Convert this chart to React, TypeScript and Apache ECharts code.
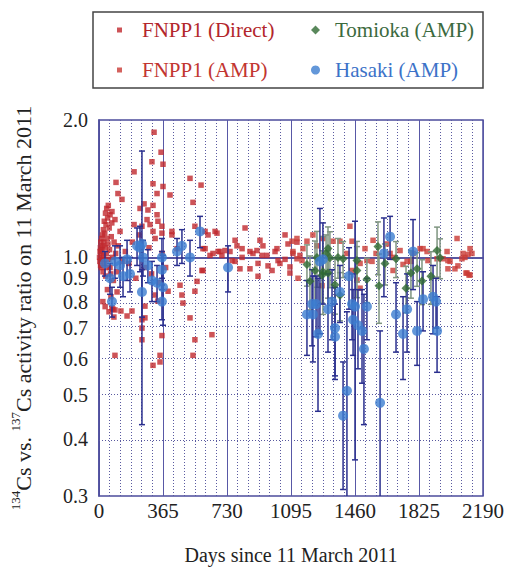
import React, { useEffect, useRef } from "react";
import * as echarts from "echarts";

const FONT = "Liberation Serif, Times New Roman, serif";

// ---- data: [day, ratio] ----
const fnppDirect: [number, number][] = [
  [3, 1.0], [5, 0.98], [6, 1.03], [8, 1.05], [9, 0.96], [10, 1.08], [12, 1.02], [13, 0.95], [15, 1.1], [16, 1.04],
  [18, 0.99], [20, 1.12], [21, 1.06], [23, 0.93], [25, 1.15], [26, 1.01], [28, 1.08], [30, 1.2], [31, 0.97], [33, 1.13],
  [35, 1.05], [37, 1.25], [38, 0.91], [40, 1.18], [42, 1.02], [44, 1.28], [45, 1.1], [47, 0.95], [49, 1.22], [51, 1.07],
  [53, 1.3], [55, 0.99], [58, 1.16], [60, 1.04], [63, 1.24], [66, 0.92], [70, 1.11], [73, 1.19], [77, 1.0], [82, 0.89],
  [86, 1.08], [95, 1.02], [100, 0.93], [110, 1.06], [120, 1.14], [135, 0.98], [150, 1.03], [170, 0.97], [190, 1.08],
  [210, 0.9], [230, 1.12], [260, 0.95], [285, 1.05], [300, 0.92], [320, 1.1], [345, 0.88], [360, 1.02], [380, 0.95],
  [22, 0.8], [35, 0.78], [48, 0.85], [57, 0.76], [68, 0.82], [80, 0.77], [85, 0.74],
  [314, 1.88], [354, 1.7], [302, 1.62], [365, 1.6], [200, 1.54], [519, 1.49], [97, 1.46], [308, 1.45], [365, 1.43],
  [582, 1.44], [108, 1.38], [331, 1.38], [131, 1.34], [405, 1.37], [257, 1.31], [234, 1.28], [279, 1.27], [308, 1.3],
  [536, 1.32], [74, 1.26], [331, 1.24], [91, 1.21], [274, 1.21], [336, 1.2], [200, 1.18], [245, 1.17], [291, 1.18],
  [359, 1.17], [547, 1.17], [308, 1.14], [359, 1.13], [416, 1.14], [416, 1.12], [662, 1.14], [605, 1.045], [445, 1.045],
  [17, 0.99], [63, 0.95], [103, 0.84], [74, 0.775], [91, 0.767], [125, 0.763], [160, 0.744], [188, 0.763], [262, 0.782],
  [245, 0.73], [262, 0.737], [245, 0.7], [245, 0.66], [359, 0.674], [348, 0.61], [348, 0.59], [308, 0.58], [91, 0.61],
  [479, 0.794], [519, 0.737], [547, 0.843], [559, 0.886], [473, 0.827], [547, 0.66], [536, 0.61], [644, 0.677],
  [462, 0.869], [336, 0.802], [394, 0.843], [319, 0.827], [587, 0.936],
  [605, 1.14], [622, 1.12], [593, 1.045], [593, 0.936], [633, 1.01], [650, 1.02], [690, 1.03], [719, 1.035],
  [747, 1.03], [776, 0.98], [776, 1.09], [816, 1.045], [833, 1.16], [816, 1.0], [861, 1.03], [861, 0.944],
  [878, 1.02], [918, 1.09], [907, 0.97], [930, 1.01], [958, 1.01], [964, 0.958], [987, 0.936], [1004, 1.03],
  [1015, 1.045], [1021, 0.984], [1032, 0.97], [1061, 1.12], [1061, 0.99], [1078, 1.07], [1089, 0.953], [1106, 1.02],
  [1089, 0.924], [907, 0.909], [804, 0.944], [759, 0.984], [673, 1.13], [679, 1.03], [701, 1.01], [787, 1.06],
  [901, 1.035], [935, 1.06], [1146, 1.01], [1129, 1.08],
];

const fnppAmp: [number, number][] = [
  [1101, 1.085], [1106, 1.03], [1129, 1.1], [1163, 1.045], [1129, 0.993], [1158, 0.984], [1186, 1.085], [1220, 1.12],
  [1243, 1.06], [1277, 1.1], [1335, 1.085], [1374, 1.085], [1431, 1.17], [1414, 1.02], [1443, 1.085], [1489, 0.97],
  [1517, 1.045], [1528, 0.984], [1557, 0.98], [1563, 1.09], [1580, 1.02], [1642, 1.07], [1660, 1.02], [1677, 1.0],
  [1717, 1.035], [1757, 0.98], [1791, 1.02], [1831, 1.045], [1871, 1.03], [1928, 0.993], [1985, 1.03], [2002, 0.98],
  [2042, 1.1], [2076, 1.02], [2116, 1.045], [2127, 1.02], [2030, 0.944], [2099, 0.924], [2116, 0.915], [1135, 0.9],
  [1489, 0.856], [1272, 0.867], [1471, 0.892], [1443, 0.936], [2047, 0.958], [2093, 0.924], [2110, 0.915],
  [2104, 1.015], [2087, 1.0], [2070, 0.993], [1734, 0.965], [1779, 0.98], [1876, 0.984], [1962, 0.993], [1990, 0.984],
  [1990, 0.944], [1848, 1.045], [1677, 0.936],
];

// [day, ratio, error]
const tomioka: [number, number, number][] = [
  [1186, 0.965, 0.1], [1203, 0.887, 0.12], [1232, 0.936, 0.15], [1243, 1.0, 0.14], [1272, 0.914, 0.12],
  [1277, 0.93, 0.18], [1295, 1.02, 0.1], [1306, 1.046, 0.12], [1317, 0.998, 0.14], [1306, 0.924, 0.11],
  [1346, 0.871, 0.12], [1363, 1.0, 0.1], [1374, 0.826, 0.1], [1392, 0.993, 0.09], [1471, 0.984, 0.1],
  [1471, 0.936, 0.12], [1528, 0.896, 0.1], [1591, 1.056, 0.14], [1597, 0.867, 0.15], [1631, 0.97, 0.1],
  [1694, 0.993, 0.09], [1751, 0.856, 0.1], [1779, 0.924, 0.11], [1814, 0.944, 0.08], [1842, 0.888, 0.1],
  [1893, 0.909, 0.12], [1928, 1.035, 0.13], [1945, 0.998, 0.1],
];

const hasaki: [number, number, number][] = [
  [34, 0.97, 0.06], [63, 0.9, 0.07], [74, 0.8, 0.06], [91, 0.98, 0.08], [120, 0.96, 0.1], [137, 0.91, 0.09],
  [160, 0.99, 0.1], [177, 0.92, 0.08], [217, 1.06, 0.1], [234, 1.05, 0.12], [245, 1.07, 0.64], [251, 1.0, 0.09],
  [245, 0.84, 0.1], [279, 0.96, 0.08], [302, 0.89, 0.09], [331, 0.88, 0.08], [359, 1.0, 0.1], [359, 0.94, 0.09],
  [365, 0.86, 0.15], [359, 0.8, 0.07], [445, 1.03, 0.07], [473, 1.06, 0.09], [519, 1.0, 0.09], [576, 1.14, 0.09],
  [736, 0.95, 0.11],
  [1186, 0.75, 0.14], [1215, 0.79, 0.15], [1220, 0.75, 0.16], [1238, 0.79, 0.12], [1249, 0.68, 0.22],
  [1260, 0.98, 0.3], [1277, 0.99, 0.2], [1306, 0.77, 0.15], [1329, 0.8, 0.14], [1346, 0.7, 0.16], [1346, 0.67, 0.12],
  [1374, 0.84, 0.12], [1392, 0.45, 0.14], [1414, 0.51, 0.25], [1426, 0.91, 0.14], [1443, 0.79, 0.13],
  [1449, 0.73, 0.12], [1460, 0.78, 0.42], [1477, 0.71, 0.14], [1500, 0.69, 0.16], [1511, 0.63, 0.2],
  [1528, 0.78, 0.12], [1603, 0.48, 0.21], [1625, 1.02, 0.2], [1660, 1.11, 0.12], [1694, 0.75, 0.13],
  [1734, 0.68, 0.14], [1757, 0.77, 0.15], [1791, 1.03, 0.18], [1814, 0.69, 0.11], [1848, 0.81, 0.12],
  [1905, 0.82, 0.14], [1922, 0.8, 0.1], [1928, 0.69, 0.13],
];

const yTicks = [0.3, 0.4, 0.5, 0.6, 0.7, 0.8, 0.9, 1.0, 2.0];
const yDotted = [0.4, 0.5, 0.6, 0.7, 0.8, 0.9];
const xMin = 0;
const xMax = 2190;
const xStep = 365;
const yMin = 0.3;
const yMax = 2.0;

const L = (v: number) => Math.log10(v);

const RED = "#c0282d";
const RED2 = "#c93a35";
const GREEN = "#2f6a32";
const GREEN_BAR = "#7f9580";
const BLUE = "#3c7dd0";
const BLUE_BAR = "#2a2f8e";
const AXIS = "#4c4c9c";

function errBar(color: string) {
  return (params: any, api: any) => {
    const x = api.value(0);
    const p1 = api.coord([x, api.value(1)]);
    const p2 = api.coord([x, api.value(2)]);
    const cap = 3;
    const style = { stroke: color, lineWidth: 1.5 };
    return {
      type: "group",
      children: [
        { type: "line", shape: { x1: p1[0], y1: p1[1], x2: p2[0], y2: p2[1] }, style },
        { type: "line", shape: { x1: p1[0] - cap, y1: p1[1], x2: p1[0] + cap, y2: p1[1] }, style },
        { type: "line", shape: { x1: p2[0] - cap, y1: p2[1], x2: p2[0] + cap, y2: p2[1] }, style },
      ],
    };
  };
}

const toErr = (arr: [number, number, number][]) =>
  arr.map(([d, r, e]) => [d, L(Math.max(r - e, 0.05)), L(r + e)]);

export default function App() {
  const ref = useRef<HTMLDivElement>(null);
  useEffect(() => {
    if (!ref.current) return;
    const chart = echarts.init(ref.current, null, { renderer: "svg" });
    const option: any = {
      animation: false,
      backgroundColor: "#ffffff",
      textStyle: { fontFamily: FONT },
      grid: {
        left: 99,
        right: 23,
        top: 120,
        bottom: 70,
        show: true,
        borderColor: AXIS,
        borderWidth: 1.5,
        backgroundColor: "transparent",
      },
      graphic: [
        {
          type: "rect",
          shape: { x: 93, y: 12, width: 390, height: 76 },
          style: { fill: "none", stroke: "#444", lineWidth: 1.5 },
          z: 1,
        },
      ],
      legend: [
        {
          orient: "vertical",
          left: 112,
          top: 13,
          itemWidth: 5,
          itemHeight: 5,
          itemGap: 16,
          icon: "rect",
          textStyle: { fontFamily: FONT, fontSize: 21, lineHeight: 24, padding: [0, 0, 0, 15] },
          data: [
            { name: "FNPP1 (Direct)", textStyle: { color: "#b3262b", fontFamily: FONT } },
            { name: "FNPP1 (AMP)", textStyle: { color: "#c23530", fontFamily: FONT } },
          ],
        },
        {
          orient: "vertical",
          left: 306,
          top: 13,
          itemWidth: 9,
          itemHeight: 9,
          itemGap: 16,
          textStyle: { fontFamily: FONT, fontSize: 21, lineHeight: 24, padding: [0, 0, 0, 10] },
          data: [
            { name: "Tomioka (AMP)", icon: "diamond", textStyle: { color: "#3b6a3e", fontFamily: FONT } },
            { name: "Hasaki (AMP)", icon: "circle", textStyle: { color: "#3c72c8", fontFamily: FONT } },
          ],
        },
      ],
      xAxis: {
        type: "value",
        min: xMin,
        max: xMax,
        interval: xStep,
        name: "Days since 11 March 2011",
        nameLocation: "middle",
        nameGap: 49,
        nameTextStyle: { fontFamily: FONT, fontSize: 20, color: "#222" },
        axisLine: { show: true, lineStyle: { color: AXIS, width: 1.5 } },
        axisTick: { show: false },
        axisLabel: {
          fontFamily: FONT,
          fontSize: 21,
          color: "#222",
          margin: 4,
          formatter: (v: number) => String(Math.round(v)),
        },
        splitLine: { show: true, lineStyle: { color: "#5858a6", width: 1, type: "solid" } },
        minorTick: { show: false, splitNumber: 6 },
        minorSplitLine: { show: true, lineStyle: { color: "#5a5aa0", width: 1, type: [1, 2] } },
      },
      yAxis: {
        type: "value",
        min: L(yMin),
        max: L(yMax),
        name: "{sup|134}Cs vs. {sup|137}Cs activity ratio on 11 March 2011",
        nameLocation: "middle",
        nameRotate: 90,
        nameGap: 62,
        nameTextStyle: {
          fontFamily: FONT,
          fontSize: 22,
          color: "#222",
          lineHeight: 28,
          rich: {
            sup: { fontFamily: FONT, fontSize: 13, color: "#222", verticalAlign: "top", lineHeight: 28 },
          },
        },
        axisLine: { show: true, lineStyle: { color: AXIS, width: 1.5 } },
        axisTick: { show: false },
        splitLine: { show: false },
        axisLabel: {
          fontFamily: FONT,
          fontSize: 20,
          lineHeight: 18,
          color: "#222",
          margin: 11,
          customValues: yTicks.map(L),
          formatter: (v: number) => Math.pow(10, v).toFixed(1),
        },
      },
      series: [
        {
          name: "FNPP1 (Direct)",
          type: "scatter",
          symbol: "rect",
          symbolSize: 5.5,
          itemStyle: { color: RED },
          z: 2,
          data: fnppDirect.map(([d, r]) => [d, L(r)]),
          markLine: {
            silent: true,
            symbol: "none",
            label: { show: false },
            data: [
              ...yDotted.map((v) => ({
                yAxis: L(v),
                lineStyle: { color: "#5a5aa0", width: 1, type: [1, 2] },
              })),
              { yAxis: L(1.0), lineStyle: { color: AXIS, width: 1.5, type: "solid" } },
            ],
            z: 1,
          },
        },
        {
          name: "FNPP1 (AMP)",
          type: "scatter",
          symbol: "rect",
          symbolSize: 5.5,
          itemStyle: { color: RED2 },
          z: 2,
          data: fnppAmp.map(([d, r]) => [d, L(r)]),
        },
        {
          name: "Tomioka (AMP) err",
          type: "custom",
          clip: true,
          z: 3,
          renderItem: errBar(GREEN_BAR),
          encode: { x: 0, y: [1, 2] },
          data: toErr(tomioka),
        },
        {
          name: "Hasaki (AMP) err",
          type: "custom",
          clip: true,
          z: 3,
          renderItem: errBar(BLUE_BAR),
          encode: { x: 0, y: [1, 2] },
          data: toErr(hasaki),
        },
        {
          name: "Tomioka (AMP)",
          type: "scatter",
          symbol: "diamond",
          symbolSize: 9,
          itemStyle: { color: GREEN },
          z: 4,
          data: tomioka.map(([d, r]) => [d, L(r)]),
        },
        {
          name: "Hasaki (AMP)",
          type: "scatter",
          symbol: "circle",
          symbolSize: 10,
          itemStyle: { color: BLUE },
          z: 5,
          data: hasaki.map(([d, r]) => [d, L(r)]),
        },
      ],
    };
    chart.setOption(option);
    return () => chart.dispose();
  }, []);
  return (
    <div
      ref={ref}
      style={{ position: "fixed", left: 0, top: 0, width: 507, height: 570, background: "#fff" }}
    />
  );
}
